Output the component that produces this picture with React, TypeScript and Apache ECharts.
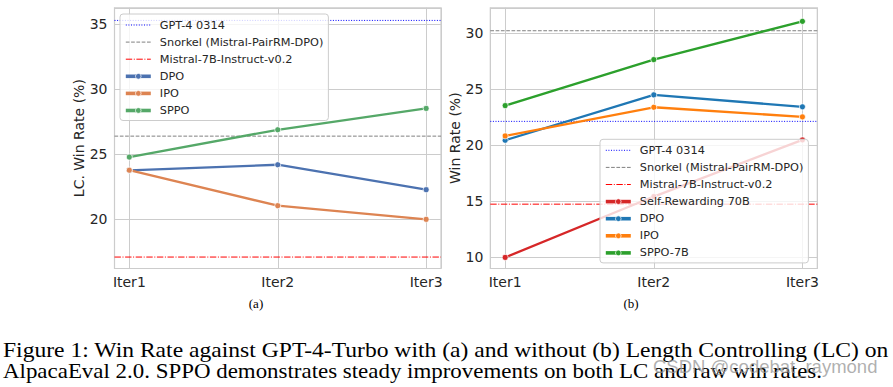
import React, { useEffect, useRef } from 'react';
import * as echarts from 'echarts';

// ---------- data ----------
const iterLabels = ['Iter1', 'Iter2', 'Iter3'];
const iterX = [1, 2, 3];

const refNames = ['GPT-4 0314', 'Snorkel (Mistral-PairRM-DPO)', 'Mistral-7B-Instruct-v0.2'];

// (a) length-controlled win rate
const lcRefValues = [35.3, 26.4, 17.1];
const lcDPO = [23.77, 24.2, 22.28];
const lcIPO = [23.78, 21.05, 20.0];
const lcSPPO = [24.79, 26.89, 28.53];

// (b) raw win rate
const rawRefValues = [22.1, 30.2, 14.7];
const rawSelfRewarding = [9.94, 15.38, 20.44];
const rawDPO = [20.41, 24.47, 23.4];
const rawIPO = [20.8, 23.36, 22.5];
const rawSPPO = [23.51, 27.62, 31.04];

const captionLines = [
  'Figure 1: Win Rate against GPT-4-Turbo with (a) and without (b) Length Controlling (LC) on',
  'AlpacaEval 2.0. SPPO demonstrates steady improvements on both LC and raw win rates.',
];

// ---------- styling ----------
const X_MIN = 0.9;
const X_MAX = 3.1;
const FONT = 'DejaVu Sans';
const TXT = '#262626';
const GRIDC = '#cccccc';
const PREFIX_B = 'b::';

const refStyles = [
  { color: '#0000ff', type: [1, 1.6] },
  { color: '#808080', type: [3.7, 1.6] },
  { color: '#ff0000', type: [6.4, 1.6, 1, 1.6] },
];

const pairs = (vals: number[]) => iterX.map((x, i) => [x, vals[i]]);

function refSeries(values: number[], gi: number, prefix: string) {
  return values.map((v, i) => ({
    name: prefix + refNames[i],
    type: 'line',
    xAxisIndex: gi,
    yAxisIndex: gi,
    data: [[X_MIN, v], [X_MAX, v]],
    symbol: 'none',
    silent: true,
    lineStyle: { color: refStyles[i].color, width: 1, type: refStyles[i].type },
    itemStyle: { color: refStyles[i].color },
    z: 1,
  }));
}

function dataSeries(name: string, vals: number[], color: string, gi: number) {
  return {
    name,
    type: 'line',
    xAxisIndex: gi,
    yAxisIndex: gi,
    data: pairs(vals),
    symbol: 'circle',
    symbolSize: 6,
    showSymbol: true,
    lineStyle: { color, width: 2.3 },
    itemStyle: { color, borderColor: '#ffffff', borderWidth: 0.7 },
    z: 3,
  };
}

function xAxis(gi: number) {
  return {
    type: 'value',
    gridIndex: gi,
    min: X_MIN,
    max: X_MAX,
    splitNumber: 2,
    axisLine: { show: false },
    axisTick: { show: false },
    splitLine: { show: true, lineStyle: { color: GRIDC, width: 1 } },
    axisLabel: {
      fontFamily: FONT,
      fontSize: 14,
      color: TXT,
      margin: 6,
      showMinLabel: false,
      showMaxLabel: false,
      formatter: (v: number) => {
        const r = Math.round(v);
        return Math.abs(v - r) < 1e-6 && r >= 1 && r <= iterLabels.length ? iterLabels[r - 1] : '';
      },
    },
  };
}

function yAxis(gi: number, min: number, max: number, name: string) {
  return {
    type: 'value',
    gridIndex: gi,
    min,
    max,
    splitNumber: 4,
    name,
    nameLocation: 'middle',
    nameGap: 27,
    nameTextStyle: { fontFamily: FONT, fontSize: 14, color: TXT },
    axisLine: { show: false },
    axisTick: { show: false },
    splitLine: { show: true, lineStyle: { color: GRIDC, width: 1 } },
    axisLabel: {
      fontFamily: FONT,
      fontSize: 14,
      color: TXT,
      margin: 7,
      showMinLabel: false,
      showMaxLabel: false,
      formatter: (v: number) => (Math.abs(v % 5) < 1e-6 ? String(v) : ''),
    },
  };
}

function legendItem(name: string, isRef: boolean) {
  return isRef
    ? { name, itemStyle: { opacity: 0, color: 'rgba(0,0,0,0)', borderWidth: 0 }, lineStyle: { width: 1 } }
    : { name, lineStyle: { width: 3.6 }, itemStyle: { borderWidth: 0.7, borderColor: '#ffffff' } };
}

function legend(left: number, top: number, items: any[], prefix: string) {
  return {
    orient: 'vertical',
    left,
    top,
    itemWidth: 25,
    itemHeight: 7,
    itemGap: 3.1,
    padding: [4, 5, 3, 4],
    backgroundColor: 'rgba(255,255,255,0.8)',
    borderColor: GRIDC,
    borderWidth: 1,
    borderRadius: 3,
    selectedMode: false,
    textStyle: { fontFamily: FONT, fontSize: 11.3, color: TXT, lineHeight: 14, padding: [0, 0, 0, 4] },
    formatter: (n: string) => (prefix && n.startsWith(prefix) ? n.slice(prefix.length) : n),
    data: items,
  };
}

export default function App() {
  const ref = useRef<HTMLDivElement>(null);
  useEffect(() => {
    if (!ref.current) return;
    const chart = echarts.init(ref.current, undefined, { renderer: 'svg' });

    const leftNames = ['DPO', 'IPO', 'SPPO'];
    const rightNames = ['Self-Rewarding 70B', 'DPO', 'IPO', 'SPPO-7B'];

    const option: any = {
      animation: false,
      backgroundColor: '#ffffff',
      grid: [
        { left: 114.5, top: 7.8, width: 326.5, height: 260.7, show: true, borderColor: GRIDC, borderWidth: 1.2, backgroundColor: 'transparent' },
        { left: 490.3, top: 7.8, width: 327, height: 260.7, show: true, borderColor: GRIDC, borderWidth: 1.2, backgroundColor: 'transparent' },
      ],
      xAxis: [xAxis(0), xAxis(1)],
      yAxis: [yAxis(0, 16.22, 36.27, 'LC. Win Rate (%)'), yAxis(1, 8.95, 32.25, 'Win Rate (%)')],
      legend: [
        legend(120, 14, [...refNames.map((n) => legendItem(n, true)), ...leftNames.map((n) => legendItem(n, false))], ''),
        legend(600, 139.3, [...refNames.map((n) => legendItem(PREFIX_B + n, true)), ...rightNames.map((n) => legendItem(PREFIX_B + n, false))], PREFIX_B),
      ],
      series: [
        ...refSeries(lcRefValues, 0, ''),
        dataSeries('DPO', lcDPO, '#4C72B0', 0),
        dataSeries('IPO', lcIPO, '#DD8452', 0),
        dataSeries('SPPO', lcSPPO, '#55A868', 0),
        ...refSeries(rawRefValues, 1, PREFIX_B),
        dataSeries(PREFIX_B + 'Self-Rewarding 70B', rawSelfRewarding, '#d62728', 1),
        dataSeries(PREFIX_B + 'DPO', rawDPO, '#1f77b4', 1),
        dataSeries(PREFIX_B + 'IPO', rawIPO, '#ff7f0e', 1),
        dataSeries(PREFIX_B + 'SPPO-7B', rawSPPO, '#2ca02c', 1),
      ],
      graphic: [
        { type: 'text', x: 256, y: 303, style: { text: '(a)', fontFamily: 'Liberation Serif', fontSize: 13, fill: '#000', align: 'center', verticalAlign: 'middle' } },
        { type: 'text', x: 631, y: 303, style: { text: '(b)', fontFamily: 'Liberation Serif', fontSize: 13, fill: '#000', align: 'center', verticalAlign: 'middle' } },
        { type: 'text', x: 3, y: 349.5, scaleX: 1.124, style: { text: captionLines[0], fontFamily: 'Liberation Serif', fontSize: 21, fill: '#000', align: 'left', verticalAlign: 'middle' } },
        { type: 'text', x: 3, y: 371, scaleX: 1.092, style: { text: captionLines[1], fontFamily: 'Liberation Serif', fontSize: 21, fill: '#000', align: 'left', verticalAlign: 'middle' } },
        { type: 'text', x: 653, y: 366, z: 10, style: { text: 'CSDN @codebat_raymond', fontFamily: 'Liberation Sans', fontSize: 18.5, fill: 'rgba(150,150,150,0.75)', align: 'left', verticalAlign: 'middle' } },
      ],
    };
    chart.setOption(option);
    return () => chart.dispose();
  }, []);
  return <div ref={ref} style={{ position: 'absolute', left: 0, top: 0, width: 893, height: 387 }} />;
}
